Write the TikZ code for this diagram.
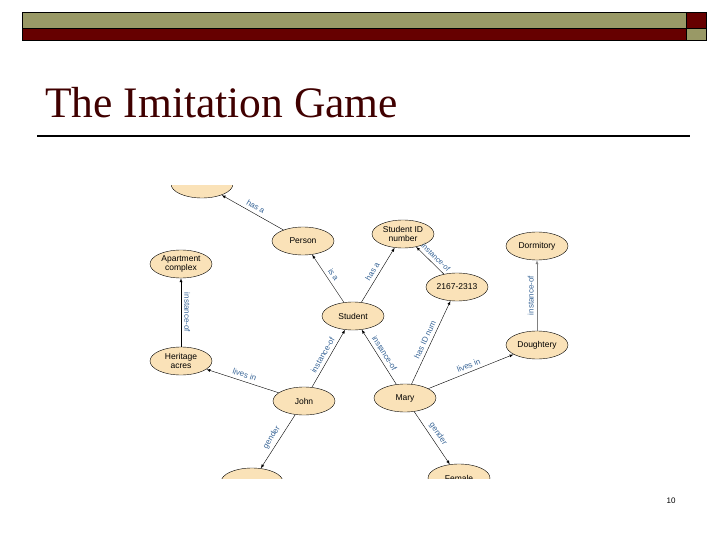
\documentclass[tikz,border=0pt]{standalone}
\usepackage{fontspec}
\setmainfont{Liberation Sans}
\newfontfamily\titlefont{Liberation Serif}
\usetikzlibrary{shapes.geometric}
\definecolor{barolive}{RGB}{153,153,102}
\definecolor{barred}{RGB}{102,0,0}
\definecolor{titlered}{RGB}{64,0,0}
\definecolor{nodefill}{RGB}{250,226,184}
\definecolor{edgeblue}{RGB}{55,100,150}

\begin{document}
\begin{tikzpicture}[x=1pt,y=-1pt,
  concept/.style={ellipse,draw,thin,fill=nodefill,minimum width=62pt,minimum height=28pt,
    inner sep=0pt,align=center,font=\fontsize{8.5}{9.5}\selectfont},
  rel/.style={thin,-latex},
  lbl/.style={sloped,anchor=south,inner sep=3.5pt,text=edgeblue,font=\fontsize{8}{9}\selectfont},
  vlbl/.style={anchor=south,inner sep=3pt,text=edgeblue,font=\fontsize{8}{9}\selectfont}]
\useasboundingbox (0,0) rectangle (720,540);
% header bar
\draw[fill=barolive] (22,12) rectangle (686,28);
\draw[fill=barred] (22,28) rectangle (686,40);
\draw[fill=barred] (686,12) rectangle (706,28);
\draw[fill=barolive] (686,28) rectangle (706,40);
% title
\node[anchor=base west,inner sep=0pt,text=titlered,font=\titlefont\fontsize{43.5}{50}\selectfont] (title) at (45,118) {The Imitation Game};
\draw[line width=1.5pt] (37,136) -- (690,136);
% semantic net (cropped picture)
\begin{scope}
\clip (140,186) rectangle (585,478);
\node[concept] (system) at (202,184) {};
\node[concept] (person) at (303,241) {Person};
\node[concept] (sidnum) at (403,234) {Student ID\\number};
\node[concept] (dorm) at (537,246) {Dormitory};
\node[concept] (apart) at (181,264) {Apartment\\complex};
\node[concept] (idval) at (457,287) {2167-2313};
\node[concept] (student) at (353,316) {Student};
\node[concept] (heritage) at (181,361) {Heritage\\acres};
\node[concept] (dough) at (537,345) {Doughtery};
\node[concept] (john) at (304,401) {John};
\node[concept] (mary) at (405,398) {Mary};
\node[concept] (male) at (252,482) {};
\node[concept] (female) at (459,478) {Female};
\draw[rel] (person) -- node[lbl] {has a} (system);
\draw[rel] (student) -- node[lbl] {is a} (person);
\draw[rel] (student) -- node[lbl] {has a} (sidnum);
\draw[rel] (idval) -- node[lbl,pos=0.45,font=\fontsize{7.5}{8}\selectfont] {instance-of} (sidnum);
\draw[rel] (heritage) -- node[vlbl,rotate=-90] {instance-of} (apart);
\draw[rel,gray] (dough) -- node[vlbl,rotate=90] {instance-of} (dorm);
\draw[rel] (john) -- node[lbl] {lives in} (heritage);
\draw[rel] (john) -- node[lbl] {instance-of} (student);
\draw[rel] (mary) -- node[lbl] {instance-of} (student);
\draw[rel] (mary) -- node[lbl] {has ID num} (idval);
\draw[rel] (mary) -- node[lbl] {lives in} (dough);
\draw[rel] (john) -- node[lbl] {gender} (male);
\draw[rel] (mary) -- node[lbl] {gender} (female);
\end{scope}
% page number
\node[font=\fontsize{8}{9}\selectfont] (pagenum) at (671,501) {10};
\end{tikzpicture}
\end{document}
